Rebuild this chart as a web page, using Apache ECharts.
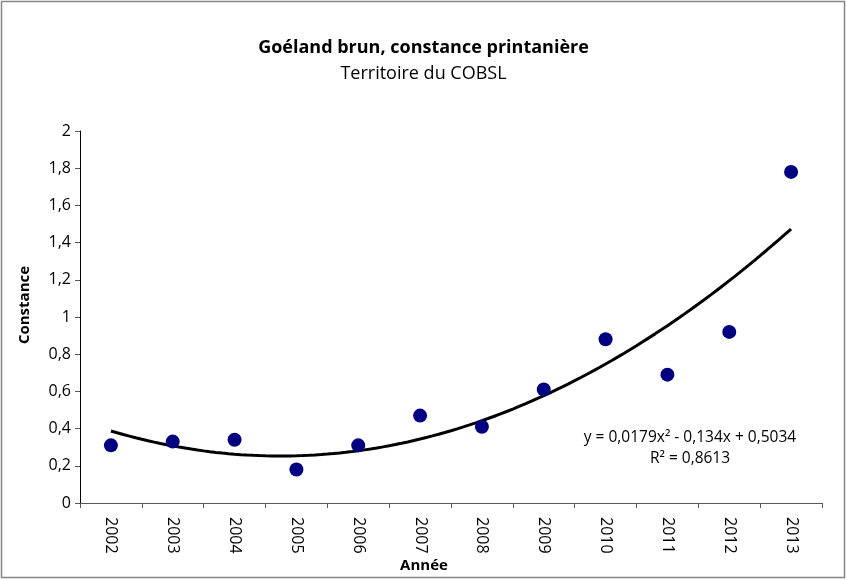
<!DOCTYPE html>
<html>
<head>
<meta charset="utf-8">
<script src="https://cdn.jsdelivr.net/npm/echarts@6/dist/echarts.min.js"></script>
<style>
html,body{margin:0;padding:0;background:#fff;}
#chart{width:847px;height:580px;}
</style>
</head>
<body>
<div id="chart"></div>
<script>
const years = ['2002','2003','2004','2005','2006','2007','2008','2009','2010','2011','2012','2013'];
const constance = [0.31, 0.33, 0.34, 0.18, 0.31, 0.47, 0.41, 0.61, 0.88, 0.69, 0.92, 1.78];
const trendCoeffs = [0.0179, -0.134, 0.5034]; // a x^2 + b x + c, x = 1..12 (from chart equation)
const equationText = 'y = 0,0179x² - 0,134x + 0,5034';
const r2Text = 'R² = 0,8613';
const titleText = 'Goéland brun, constance printanière';
const subtitleText = 'Territoire du COBSL';
const xAxisTitle = 'Année';
const yAxisTitle = 'Constance';

const trend = [];
for (let i = 0; i <= 110; i++) {
  const x = 1 + i * 0.1;
  trend.push([x, trendCoeffs[0]*x*x + trendCoeffs[1]*x + trendCoeffs[2]]);
}
const FONT = '"Open Sans", Lato, sans-serif';
const chart = echarts.init(document.getElementById('chart'), null, {renderer:'canvas'});
chart.setOption({
  animation:false,
  backgroundColor:'#fff',
  textStyle:{fontFamily:FONT},
  title:[
    {text:titleText, left:'center', top:34, textStyle:{fontFamily:FONT, fontSize:18, fontWeight:'bold', color:'#000'}},
    {text:subtitleText, left:'center', top:60, textStyle:{fontFamily:FONT, fontSize:18, fontWeight:'normal', color:'#000'}}
  ],
  grid:{left:80, right:25, top:131, bottom:77, containLabel:false, outerBoundsMode:'none'},
  xAxis:[
    {type:'category', data:years, boundaryGap:true,
     axisLine:{lineStyle:{color:'#595959', width:1}},
     axisTick:{show:true, alignWithLabel:false, length:5, lineStyle:{color:'#595959'}},
     axisLabel:{rotate:-90, fontFamily:FONT, fontSize:16, color:'#000', margin:14},
     splitLine:{show:false}},
    {type:'value', min:0.5, max:12.5, show:false}
  ],
  yAxis:{type:'value', min:0, max:2, interval:0.2,
    axisLine:{show:true, lineStyle:{color:'#000', width:1}},
    axisTick:{show:true, length:5, lineStyle:{color:'#595959'}},
    axisLabel:{fontFamily:FONT, fontSize:16, color:'#000', margin:9,
      formatter:v=>String(Math.round(v*10)/10).replace('.',',')},
    splitLine:{show:false}},
  series:[
    {type:'line', xAxisIndex:1, data:trend, showSymbol:false, symbol:'none', smooth:false,
     lineStyle:{color:'#000', width:3}, z:2},
    {type:'scatter', xAxisIndex:0, data:constance, symbol:'circle', symbolSize:14,
     itemStyle:{color:'#000080', opacity:1}, z:3}
  ],
  graphic:[
    {type:'rect', shape:{x:1.5, y:1.5, width:843, height:576}, style:{fill:'none', stroke:'#868686', lineWidth:1.5}, silent:true},
    {type:'text', x:690, y:438, style:{text:equationText, fontFamily:FONT, fontSize:15.5, fill:'#000', textAlign:'center', textVerticalAlign:'middle'}},
    {type:'text', x:690, y:459, style:{text:r2Text, fontFamily:FONT, fontSize:15.5, fill:'#000', textAlign:'center', textVerticalAlign:'middle'}},
    {type:'text', x:424, y:566, style:{text:xAxisTitle, fontFamily:FONT, fontSize:15, fontWeight:'bold', fill:'#000', textAlign:'center', textVerticalAlign:'middle'}},
    {type:'text', x:25, y:305, rotation:Math.PI/2, style:{text:yAxisTitle, fontFamily:FONT, fontSize:15, fontWeight:'bold', fill:'#000', textAlign:'center', textVerticalAlign:'middle'}}
  ]
});
</script>
</body>
</html>
